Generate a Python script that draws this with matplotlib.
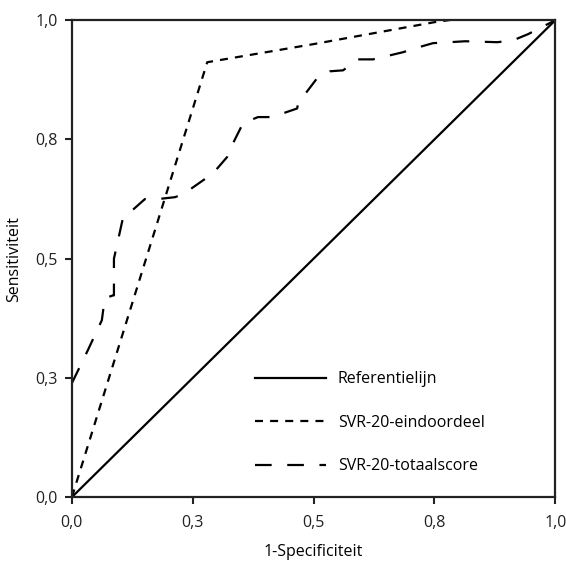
import matplotlib
matplotlib.use("Agg")
import matplotlib.pyplot as plt

plt.rcParams['font.family'] = ['Open Sans', 'DejaVu Sans']

# referentielijn
ref_x = [0.0, 1.0]
ref_y = [0.0, 1.0]

# SVR-20-eindoordeel
eind_x = [0.0, 0.28, 0.50, 0.75, 0.82, 0.88, 0.94, 1.0]
eind_y = [0.0, 0.912, 0.95, 0.996, 1.006, 1.008, 1.004, 1.0]

# SVR-20-totaalscore
tot_x = [0.0, 0.033, 0.062, 0.068, 0.085, 0.087, 0.087, 0.106, 0.12, 0.151, 0.178,
         0.213, 0.23, 0.292, 0.321, 0.323, 0.354, 0.385, 0.414, 0.466, 0.468,
         0.507, 0.534, 0.561, 0.592, 0.623, 0.685, 0.716, 0.747, 0.814, 0.88,
         0.913, 0.944, 1.0]
tot_y = [0.239, 0.308, 0.371, 0.417, 0.423, 0.423, 0.50, 0.587, 0.597, 0.625, 0.625,
         0.629, 0.635, 0.679, 0.713, 0.721, 0.784, 0.797, 0.797, 0.815, 0.826,
         0.878, 0.893, 0.895, 0.918, 0.918, 0.933, 0.943, 0.952, 0.956, 0.954,
         0.958, 0.971, 1.0]

tick_pos = [0.0, 0.25, 0.5, 0.75, 1.0]
tick_lab = ['0,0', '0,3', '0,5', '0,8', '1,0']

fs = 11.5

fig = plt.figure(figsize=(5.66, 5.63), dpi=100)
ax = fig.add_axes([0.127, 0.117, 0.854, 0.847])

lw = 1.6
ax.plot(ref_x, ref_y, color='black', lw=lw, label='Referentielijn')
ax.plot(eind_x, eind_y, color='black', lw=lw, ls=(0, (3.6, 3.2)),
        label='SVR-20-eindoordeel')
ax.plot(tot_x, tot_y, color='black', lw=lw, ls=(0, (7.5, 7.0)),
        label='SVR-20-totaalscore')

ax.set_xlim(0, 1)
ax.set_ylim(0, 1)
ax.set_xticks(tick_pos)
ax.set_xticklabels(tick_lab)
ax.set_yticks(tick_pos)
ax.set_yticklabels(tick_lab)
ax.tick_params(direction='out', length=5, width=1.5, labelsize=fs, colors='#222222')
ax.tick_params(axis='x', pad=8)
ax.tick_params(axis='y', pad=5)

for s in ax.spines.values():
    s.set_linewidth(1.6)
    s.set_color('#222222')

ax.set_xlabel('1-Specificiteit', fontsize=fs, labelpad=9)
ax.set_ylabel('Sensitiviteit', fontsize=fs, labelpad=10)

leg = ax.legend(loc='lower left', bbox_to_anchor=(0.35, 0.018), frameon=False,
                handlelength=4.4, labelspacing=1.72, handletextpad=0.75,
                fontsize=fs)

fig.savefig('out.png', dpi=100)
